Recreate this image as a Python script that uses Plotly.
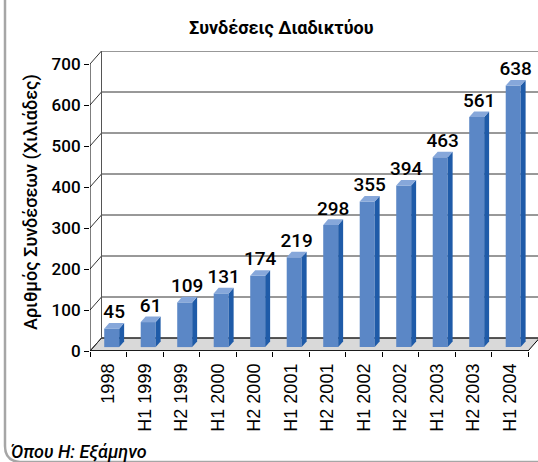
import plotly.graph_objects as go

# ---- data ----
categories = ["1998", "H1 1999", "H2 1999", "H1 2000", "H2 2000", "H1 2001",
              "H2 2001", "H1 2002", "H2 2002", "H1 2003", "H2 2003", "H1 2004"]
connections = [45, 61, 109, 131, 174, 219, 298, 355, 394, 463, 561, 638]
y_ticks = [0, 100, 200, 300, 400, 500, 600, 700]

title_text = "Συνδέσεις Διαδικτύου"
y_title = "Αριθμός Συνδέσεων (Χιλιάδες)"
footnote = "Όπου Η: Εξάμηνο"

# ---- 3D-look geometry (in axis units) ----
W, H = 538, 462
DX = 0.315      # depth offset along x (category units)
DY = 31.7       # depth offset along y (value units)
HALF_W = 0.205  # half bar width
D0, D1 = 0.30, 0.73  # bar front/back depth fractions
X_MIN = -0.5
X_MAX = len(categories) - 0.5 + 0.274
Y_MAX = y_ticks[-1] + DY

FRONT = "#5B87C6"
SIDE = "#1F5BA8"
TOP = "#86A7DA"
FONT_NUM = "Roboto, Liberation Sans, Arial, sans-serif"
FONT_TXT = "Liberation Sans, Arial, sans-serif"

xs = list(range(len(categories)))

fig = go.Figure()

# front faces as bars
fig.add_trace(go.Bar(
    x=xs, y=connections, base=[D0 * DY] * len(xs),
    width=2 * HALF_W, offset=-HALF_W + D0 * DX,
    marker=dict(color=FRONT, line=dict(width=0)),
    hoverinfo="skip", showlegend=False,
))

# side faces and top faces
for i, v in zip(xs, connections):
    xr0 = i + HALF_W + D0 * DX
    xr1 = i + HALF_W + D1 * DX
    fig.add_trace(go.Scatter(
        x=[xr0, xr1, xr1, xr0, xr0],
        y=[D0 * DY, D1 * DY, v + D1 * DY, v + D0 * DY, D0 * DY],
        fill="toself", fillcolor=SIDE, mode="lines",
        line=dict(width=0, color=SIDE), hoverinfo="skip", showlegend=False,
    ))
    xl0 = i - HALF_W + D0 * DX
    xl1 = i - HALF_W + D1 * DX
    fig.add_trace(go.Scatter(
        x=[xl0, xr0, xr1, xl1, xl0],
        y=[v + D0 * DY, v + D0 * DY, v + D1 * DY, v + D1 * DY, v + D0 * DY],
        fill="toself", fillcolor=TOP, mode="lines",
        line=dict(width=0, color=TOP), hoverinfo="skip", showlegend=False,
    ))

# value labels
fig.add_trace(go.Scatter(
    x=[i + (D0 + D1) / 2 * DX for i in xs],
    y=[v + D1 * DY for v in connections],
    text=[str(v) for v in connections], mode="text", textposition="top center",
    textfont=dict(family=FONT_NUM, size=19, color="black", weight=500),
    cliponaxis=False, hoverinfo="skip", showlegend=False,
))

# invisible trace on categorical axis for labels
fig.add_trace(go.Scatter(
    x=categories, y=[0] * len(categories), xaxis="x2", yaxis="y",
    mode="markers", marker=dict(opacity=0), hoverinfo="skip", showlegend=False,
))

shapes = []
n = len(categories)
# floor
shapes.append(dict(
    type="path", xref="x", yref="y", layer="below",
    path=f"M {X_MIN},0 L {n-0.5},0 L {n-0.5+DX},{DY} L {X_MIN+DX},{DY} Z",
    fillcolor="#D9D9D9", line=dict(color="black", width=1),
))
# back wall gridlines and side diagonals
for t in y_ticks:
    shapes.append(dict(type="line", xref="x", yref="y", layer="below",
                       x0=X_MIN + DX, x1=X_MAX + 1, y0=t + DY, y1=t + DY,
                       line=dict(color="#333333", width=1)))
    shapes.append(dict(type="line", xref="x", yref="y", layer="below",
                       x0=X_MIN, x1=X_MIN + DX, y0=t, y1=t + DY,
                       line=dict(color="#333333", width=1)))
# back wall left edge
shapes.append(dict(type="line", xref="x", yref="y", layer="below",
                   x0=X_MIN + DX, x1=X_MIN + DX, y0=DY, y1=y_ticks[-1] + DY,
                   line=dict(color="#555555", width=1)))
# front axis lines
shapes.append(dict(type="line", xref="x", yref="y", layer="above",
                   x0=X_MIN, x1=X_MIN, y0=0, y1=y_ticks[-1],
                   line=dict(color="black", width=1)))
shapes.append(dict(type="line", xref="x", yref="y", layer="above",
                   x0=X_MIN, x1=n - 0.5, y0=0, y1=0,
                   line=dict(color="black", width=1.5)))

# frame (decorative, paper px)
def px(x, y):
    return f"{x / W},{1 - y / H}"
shapes.append(dict(
    type="path", xref="paper", yref="paper",
    path=f"M {px(5, -5)} L {px(5, 446)} Q {px(5, 461)} {px(20, 462)} L {px(560, 462)}",
    line=dict(color="#A6A6A6", width=2.5),
))

x_dom = [90 / W, 1.0]
y_dom = [(H - 351) / H, (H - 51) / H]

fig.update_layout(
    width=W, height=H,
    margin=dict(l=0, r=0, t=0, b=0, autoexpand=False),
    paper_bgcolor="white", plot_bgcolor="rgba(0,0,0,0)",
    showlegend=False, barmode="overlay",
    shapes=shapes,
    xaxis=dict(domain=x_dom, range=[X_MIN, X_MAX], visible=False,
               fixedrange=True, automargin=False),
    xaxis2=dict(domain=x_dom, range=[X_MIN, X_MAX], overlaying="x", anchor="y",
                side="bottom", type="category", tickson="boundaries",
                ticks="outside", ticklen=5, tickcolor="black", tickwidth=1,
                tickangle=-90, showgrid=False, zeroline=False, showline=False,
                automargin=False, ticklabelstandoff=8,
                tickfont=dict(family=FONT_TXT, size=18, color="black")),
    yaxis=dict(domain=y_dom, range=[0, Y_MAX], tickvals=y_ticks,
               ticks="outside", ticklen=5, tickcolor="black", tickwidth=1,
               showgrid=False, zeroline=False, showline=False, automargin=False,
               tickfont=dict(family=FONT_NUM, size=17, color="black", weight=500)),
    annotations=[
        dict(text=f"<b>{title_text}</b>", xref="paper", yref="paper",
             x=281 / W, y=1 - 28 / H, showarrow=False, xanchor="center", yanchor="middle",
             font=dict(family=FONT_NUM, size=18, color="black")),
        dict(text=y_title, xref="paper", yref="paper", textangle=-90,
             x=31 / W, y=1 - 202 / H, showarrow=False, xanchor="center", yanchor="middle",
             font=dict(family=FONT_NUM, size=18, color="black", weight=500)),
        dict(text=f"<i>{footnote}</i>", xref="paper", yref="paper",
             x=9 / W, y=1 - 451 / H, showarrow=False, xanchor="left", yanchor="middle",
             font=dict(family=FONT_NUM, size=18, color="black", weight=500)),
    ],
)

fig.write_html("out.html", config={"displayModeBar": False},
               post_script="document.body.style.margin='0px';document.body.style.overflow='hidden';")
